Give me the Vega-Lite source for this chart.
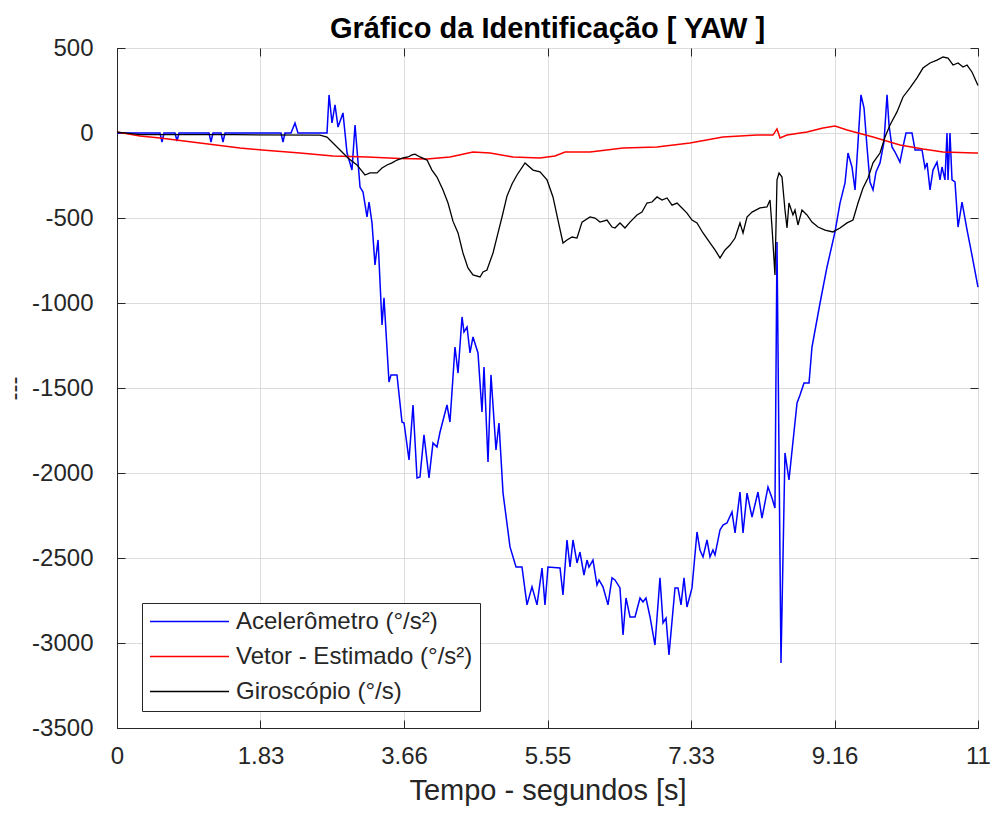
{
  "$schema": "https://vega.github.io/schema/vega-lite/v6.json",
  "width": 861,
  "height": 680,
  "autosize": {"type": "none"},
  "padding": {"left": 117, "top": 48, "right": 18, "bottom": 89},
  "background": "white",
  "config": {
    "font": "Liberation Sans",
    "view": {"stroke": "#262626", "strokeWidth": 1},
    "axis": {
      "domainColor": "#262626",
      "tickColor": "#262626",
      "labelColor": "#262626",
      "titleColor": "#262626",
      "gridColor": "#dcdcdc",
      "labelFont": "Liberation Sans",
      "titleFont": "Liberation Sans",
      "labelFontSize": 24,
      "titleFontSize": 29,
      "titleFontWeight": "normal",
      "tickSize": -8,
      "labelFlush": false,
      "labelOverlap": false
    }
  },
  "title": {
    "text": "Gráfico da Identificação [ YAW ]",
    "font": "Liberation Sans",
    "fontSize": 29,
    "fontWeight": "bold",
    "color": "#000000",
    "anchor": "middle",
    "frame": "group",
    "offset": -8
  },
  "datasets": {
    "acc": [
      {"t": 0.000, "v": 0}, {"t": 0.549, "v": 0}, {"t": 0.575, "v": -53}, {"t": 0.600, "v": 0},
      {"t": 0.741, "v": 0}, {"t": 0.767, "v": -47}, {"t": 0.792, "v": 0}, {"t": 1.175, "v": 0},
      {"t": 1.201, "v": -53}, {"t": 1.226, "v": 0}, {"t": 1.329, "v": 0}, {"t": 1.354, "v": -53},
      {"t": 1.380, "v": 0}, {"t": 2.095, "v": 0}, {"t": 2.121, "v": -53}, {"t": 2.146, "v": 0},
      {"t": 2.223, "v": 0}, {"t": 2.274, "v": 59}, {"t": 2.312, "v": 0}, {"t": 2.683, "v": 0},
      {"t": 2.709, "v": 224}, {"t": 2.747, "v": 59}, {"t": 2.785, "v": 165}, {"t": 2.824, "v": 35},
      {"t": 2.887, "v": 118}, {"t": 2.939, "v": -118}, {"t": 3.002, "v": -218}, {"t": 3.041, "v": 47},
      {"t": 3.105, "v": -318}, {"t": 3.143, "v": -347}, {"t": 3.194, "v": -494}, {"t": 3.220, "v": -406},
      {"t": 3.258, "v": -529}, {"t": 3.296, "v": -776}, {"t": 3.335, "v": -629}, {"t": 3.386, "v": -1129},
      {"t": 3.411, "v": -970}, {"t": 3.475, "v": -1465}, {"t": 3.501, "v": -1423}, {"t": 3.577, "v": -1423},
      {"t": 3.641, "v": -1700}, {"t": 3.667, "v": -1706}, {"t": 3.731, "v": -1923}, {"t": 3.782, "v": -1600},
      {"t": 3.833, "v": -2029}, {"t": 3.871, "v": -2023}, {"t": 3.922, "v": -1776}, {"t": 3.986, "v": -2029},
      {"t": 4.037, "v": -1823}, {"t": 4.088, "v": -1847}, {"t": 4.127, "v": -1759}, {"t": 4.216, "v": -1600},
      {"t": 4.254, "v": -1700}, {"t": 4.318, "v": -1259}, {"t": 4.357, "v": -1412}, {"t": 4.408, "v": -1082},
      {"t": 4.433, "v": -1171}, {"t": 4.472, "v": -1141}, {"t": 4.510, "v": -1294}, {"t": 4.548, "v": -1200},
      {"t": 4.612, "v": -1294}, {"t": 4.663, "v": -1641}, {"t": 4.689, "v": -1376}, {"t": 4.740, "v": -1935},
      {"t": 4.778, "v": -1423}, {"t": 4.842, "v": -1864}, {"t": 4.880, "v": -1706}, {"t": 4.932, "v": -2118},
      {"t": 5.021, "v": -2435}, {"t": 5.098, "v": -2553}, {"t": 5.174, "v": -2553}, {"t": 5.238, "v": -2776},
      {"t": 5.302, "v": -2670}, {"t": 5.366, "v": -2776}, {"t": 5.430, "v": -2559}, {"t": 5.468, "v": -2776},
      {"t": 5.506, "v": -2553}, {"t": 5.660, "v": -2559}, {"t": 5.698, "v": -2717}, {"t": 5.749, "v": -2394},
      {"t": 5.788, "v": -2553}, {"t": 5.826, "v": -2394}, {"t": 5.877, "v": -2529}, {"t": 5.915, "v": -2465},
      {"t": 5.966, "v": -2600}, {"t": 6.005, "v": -2512}, {"t": 6.030, "v": -2553}, {"t": 6.081, "v": -2512},
      {"t": 6.132, "v": -2659}, {"t": 6.158, "v": -2629}, {"t": 6.209, "v": -2670}, {"t": 6.273, "v": -2776},
      {"t": 6.324, "v": -2617}, {"t": 6.362, "v": -2629}, {"t": 6.426, "v": -2676}, {"t": 6.465, "v": -2953},
      {"t": 6.503, "v": -2735}, {"t": 6.554, "v": -2847}, {"t": 6.618, "v": -2847}, {"t": 6.682, "v": -2735},
      {"t": 6.720, "v": -2759}, {"t": 6.758, "v": -2735}, {"t": 6.810, "v": -2847}, {"t": 6.873, "v": -3012},
      {"t": 6.937, "v": -2617}, {"t": 6.976, "v": -2882}, {"t": 7.014, "v": -2853}, {"t": 7.052, "v": -3070},
      {"t": 7.129, "v": -2676}, {"t": 7.167, "v": -2676}, {"t": 7.206, "v": -2776}, {"t": 7.244, "v": -2617},
      {"t": 7.282, "v": -2788}, {"t": 7.346, "v": -2676}, {"t": 7.410, "v": -2347}, {"t": 7.448, "v": -2453},
      {"t": 7.487, "v": -2494}, {"t": 7.538, "v": -2394}, {"t": 7.576, "v": -2494}, {"t": 7.614, "v": -2453},
      {"t": 7.640, "v": -2482}, {"t": 7.704, "v": -2335}, {"t": 7.742, "v": -2306}, {"t": 7.793, "v": -2294},
      {"t": 7.857, "v": -2229}, {"t": 7.896, "v": -2353}, {"t": 7.959, "v": -2112}, {"t": 7.998, "v": -2353},
      {"t": 8.049, "v": -2118}, {"t": 8.113, "v": -2259}, {"t": 8.189, "v": -2112}, {"t": 8.240, "v": -2265},
      {"t": 8.317, "v": -2082}, {"t": 8.368, "v": -2147}, {"t": 8.406, "v": -2206}, {"t": 8.432, "v": -641},
      {"t": 8.483, "v": -3117}, {"t": 8.534, "v": -1882}, {"t": 8.585, "v": -2041}, {"t": 8.688, "v": -1588},
      {"t": 8.726, "v": -1541}, {"t": 8.777, "v": -1471}, {"t": 8.841, "v": -1471}, {"t": 8.879, "v": -1259},
      {"t": 8.982, "v": -1000}, {"t": 9.071, "v": -788}, {"t": 9.173, "v": -582}, {"t": 9.237, "v": -412},
      {"t": 9.301, "v": -294}, {"t": 9.339, "v": -118}, {"t": 9.390, "v": -200}, {"t": 9.429, "v": -335},
      {"t": 9.505, "v": 224}, {"t": 9.544, "v": 147}, {"t": 9.582, "v": -82}, {"t": 9.620, "v": -288},
      {"t": 9.659, "v": -335}, {"t": 9.697, "v": -229}, {"t": 9.748, "v": -176}, {"t": 9.799, "v": -53},
      {"t": 9.838, "v": 224}, {"t": 9.863, "v": 47}, {"t": 9.901, "v": -82}, {"t": 9.940, "v": -112},
      {"t": 10.003, "v": -171}, {"t": 10.042, "v": -82}, {"t": 10.080, "v": 0}, {"t": 10.157, "v": 0},
      {"t": 10.196, "v": -100}, {"t": 10.285, "v": -100}, {"t": 10.323, "v": -206}, {"t": 10.349, "v": -176},
      {"t": 10.387, "v": -335}, {"t": 10.425, "v": -218}, {"t": 10.476, "v": -171}, {"t": 10.515, "v": -276},
      {"t": 10.540, "v": -200}, {"t": 10.578, "v": -276}, {"t": 10.604, "v": 0}, {"t": 10.617, "v": -276},
      {"t": 10.642, "v": 0}, {"t": 10.668, "v": -276}, {"t": 10.706, "v": -288}, {"t": 10.745, "v": -553},
      {"t": 10.796, "v": -406}, {"t": 10.860, "v": -570}, {"t": 10.923, "v": -718}, {"t": 11.000, "v": -906}
    ],
    "est": [
      {"t": 0.000, "v": 6}, {"t": 0.294, "v": -18}, {"t": 0.549, "v": -30}, {"t": 1.060, "v": -59},
      {"t": 1.571, "v": -88}, {"t": 1.853, "v": -100}, {"t": 2.338, "v": -118}, {"t": 2.760, "v": -135},
      {"t": 3.194, "v": -141}, {"t": 3.616, "v": -150}, {"t": 3.961, "v": -153}, {"t": 4.254, "v": -141},
      {"t": 4.548, "v": -112}, {"t": 4.766, "v": -118}, {"t": 5.059, "v": -141}, {"t": 5.404, "v": -147},
      {"t": 5.596, "v": -135}, {"t": 5.724, "v": -112}, {"t": 6.043, "v": -112}, {"t": 6.465, "v": -88},
      {"t": 6.899, "v": -82}, {"t": 7.321, "v": -59}, {"t": 7.742, "v": -24}, {"t": 8.177, "v": -12},
      {"t": 8.381, "v": -12}, {"t": 8.432, "v": 24}, {"t": 8.471, "v": -29}, {"t": 8.560, "v": -12},
      {"t": 8.815, "v": 6}, {"t": 9.020, "v": 29}, {"t": 9.173, "v": 41}, {"t": 9.327, "v": 18},
      {"t": 9.659, "v": -24}, {"t": 10.003, "v": -70}, {"t": 10.297, "v": -94}, {"t": 10.553, "v": -112},
      {"t": 10.962, "v": -118}, {"t": 11.000, "v": -118}
    ],
    "gyro": [
      {"t": 0.000, "v": 5}, {"t": 0.300, "v": -10}, {"t": 1.500, "v": -10}, {"t": 2.594, "v": -12},
      {"t": 2.683, "v": -24}, {"t": 2.721, "v": -41}, {"t": 2.849, "v": -100}, {"t": 2.951, "v": -147},
      {"t": 3.066, "v": -188}, {"t": 3.168, "v": -247}, {"t": 3.232, "v": -235}, {"t": 3.322, "v": -235},
      {"t": 3.386, "v": -206}, {"t": 3.450, "v": -188}, {"t": 3.513, "v": -176}, {"t": 3.577, "v": -159},
      {"t": 3.654, "v": -147}, {"t": 3.718, "v": -141}, {"t": 3.769, "v": -129}, {"t": 3.807, "v": -124},
      {"t": 3.871, "v": -141}, {"t": 3.961, "v": -159}, {"t": 4.024, "v": -218}, {"t": 4.088, "v": -259},
      {"t": 4.165, "v": -335}, {"t": 4.229, "v": -412}, {"t": 4.293, "v": -520}, {"t": 4.357, "v": -588},
      {"t": 4.420, "v": -706}, {"t": 4.484, "v": -794}, {"t": 4.548, "v": -835}, {"t": 4.638, "v": -847},
      {"t": 4.676, "v": -817}, {"t": 4.727, "v": -806}, {"t": 4.740, "v": -788}, {"t": 4.804, "v": -706},
      {"t": 4.868, "v": -588}, {"t": 4.919, "v": -494}, {"t": 4.983, "v": -370}, {"t": 5.047, "v": -300},
      {"t": 5.110, "v": -247}, {"t": 5.213, "v": -176}, {"t": 5.315, "v": -218}, {"t": 5.404, "v": -229},
      {"t": 5.494, "v": -276}, {"t": 5.570, "v": -376}, {"t": 5.634, "v": -512}, {"t": 5.698, "v": -647},
      {"t": 5.749, "v": -629}, {"t": 5.813, "v": -612}, {"t": 5.877, "v": -618}, {"t": 5.941, "v": -524},
      {"t": 6.043, "v": -494}, {"t": 6.107, "v": -500}, {"t": 6.171, "v": -524}, {"t": 6.260, "v": -512},
      {"t": 6.324, "v": -553}, {"t": 6.362, "v": -559}, {"t": 6.426, "v": -529}, {"t": 6.490, "v": -559},
      {"t": 6.554, "v": -524}, {"t": 6.643, "v": -482}, {"t": 6.707, "v": -465}, {"t": 6.771, "v": -412},
      {"t": 6.835, "v": -406}, {"t": 6.899, "v": -376}, {"t": 6.963, "v": -394}, {"t": 7.027, "v": -382},
      {"t": 7.091, "v": -424}, {"t": 7.155, "v": -412}, {"t": 7.218, "v": -441}, {"t": 7.282, "v": -471},
      {"t": 7.346, "v": -512}, {"t": 7.410, "v": -529}, {"t": 7.487, "v": -588}, {"t": 7.576, "v": -647},
      {"t": 7.640, "v": -688}, {"t": 7.704, "v": -735}, {"t": 7.768, "v": -688}, {"t": 7.832, "v": -659},
      {"t": 7.896, "v": -618}, {"t": 7.959, "v": -529}, {"t": 7.998, "v": -588}, {"t": 8.049, "v": -494},
      {"t": 8.113, "v": -465}, {"t": 8.215, "v": -441}, {"t": 8.304, "v": -435}, {"t": 8.343, "v": -394},
      {"t": 8.368, "v": -553}, {"t": 8.406, "v": -835}, {"t": 8.432, "v": -276}, {"t": 8.458, "v": -235},
      {"t": 8.496, "v": -259}, {"t": 8.534, "v": -453}, {"t": 8.560, "v": -559}, {"t": 8.585, "v": -412},
      {"t": 8.636, "v": -482}, {"t": 8.662, "v": -453}, {"t": 8.700, "v": -541}, {"t": 8.751, "v": -453},
      {"t": 8.815, "v": -482}, {"t": 8.879, "v": -524}, {"t": 8.956, "v": -553}, {"t": 9.045, "v": -571},
      {"t": 9.147, "v": -582}, {"t": 9.237, "v": -559}, {"t": 9.327, "v": -529}, {"t": 9.403, "v": -512},
      {"t": 9.467, "v": -412}, {"t": 9.531, "v": -324}, {"t": 9.595, "v": -265}, {"t": 9.659, "v": -176},
      {"t": 9.748, "v": -118}, {"t": 9.812, "v": -24}, {"t": 9.876, "v": 47}, {"t": 9.965, "v": 124},
      {"t": 10.042, "v": 212}, {"t": 10.131, "v": 265}, {"t": 10.221, "v": 324}, {"t": 10.297, "v": 382},
      {"t": 10.387, "v": 412}, {"t": 10.476, "v": 429}, {"t": 10.553, "v": 447}, {"t": 10.617, "v": 441},
      {"t": 10.681, "v": 400}, {"t": 10.745, "v": 412}, {"t": 10.809, "v": 388}, {"t": 10.860, "v": 400},
      {"t": 10.923, "v": 359}, {"t": 11.000, "v": 280}
    ]
  },
  "layer": [
    {
      "data": {"name": "acc"},
      "mark": {"type": "line", "strokeWidth": 1.5},
      "encoding": {
        "x": {
          "field": "t", "type": "quantitative",
          "scale": {"domain": [0, 11], "nice": false, "zero": false},
          "axis": {
            "values": [0, 1.8333, 3.6667, 5.5, 7.3333, 9.1667, 11],
            "labelExpr": "datum.value < 0.5 ? '0' : datum.value < 2.5 ? '1.83' : datum.value < 4.5 ? '3.66' : datum.value < 6.5 ? '5.55' : datum.value < 8 ? '7.33' : datum.value < 10 ? '9.16' : '11'",
            "grid": true,
            "title": "Tempo - segundos [s]",
            "labelPadding": 24,
            "titleY": 71,
            "titleBaseline": "alphabetic"
          }
        },
        "y": {
          "field": "v", "type": "quantitative",
          "scale": {"domain": [-3500, 500], "nice": false, "zero": false},
          "axis": {
            "values": [-3500, -3000, -2500, -2000, -1500, -1000, -500, 0, 500],
            "labelExpr": "'' + datum.value",
            "grid": true,
            "title": "---",
            "titleFontSize": 24,
            "labelPadding": 32,
            "titleX": -103,
            "titleY": 340,
            "titleAngle": 270,
            "titleAlign": "center",
            "titleBaseline": "middle"
          }
        },
        "color": {
          "datum": "Acelerômetro (°/s²)",
          "type": "nominal",
          "scale": {
            "domain": ["Acelerômetro (°/s²)", "Vetor - Estimado (°/s²)", "Giroscópio (°/s)"],
            "range": ["#0000ff", "#ff0000", "#000000"]
          },
          "legend": {
            "title": null,
            "orient": "none",
            "legendX": 25,
            "legendY": 555,
            "symbolType": "stroke",
            "symbolSize": 6241,
            "symbolStrokeWidth": 1.5,
            "clipHeight": 23,
            "rowPadding": 10,
            "padding": 7,
            "labelOffset": 6,
            "labelFontSize": 24,
            "labelFont": "Liberation Sans",
            "labelColor": "#262626",
            "labelLimit": 400,
            "strokeColor": "#262626",
            "fillColor": "white",
            "cornerRadius": 0
          }
        }
      }
    },
    {
      "data": {"name": "est"},
      "mark": {"type": "line", "strokeWidth": 1.5},
      "encoding": {
        "x": {"field": "t", "type": "quantitative", "axis": null},
        "y": {"field": "v", "type": "quantitative", "axis": null},
        "color": {"datum": "Vetor - Estimado (°/s²)", "type": "nominal"}
      }
    },
    {
      "data": {"name": "gyro"},
      "mark": {"type": "line", "strokeWidth": 1.3},
      "encoding": {
        "x": {"field": "t", "type": "quantitative", "axis": null},
        "y": {"field": "v", "type": "quantitative", "axis": null},
        "color": {"datum": "Giroscópio (°/s)", "type": "nominal"}
      }
    },
    {
      "data": {"name": "gyro"},
      "mark": {"type": "line", "strokeOpacity": 0},
      "encoding": {
        "x": {
          "field": "t", "type": "quantitative",
          "axis": {"orient": "top", "values": [0, 1.8333, 3.6667, 5.5, 7.3333, 9.1667, 11], "labels": false, "grid": false, "title": null, "domain": false}
        },
        "y": {
          "field": "v", "type": "quantitative",
          "axis": {"orient": "right", "values": [-3500, -3000, -2500, -2000, -1500, -1000, -500, 0, 500], "labels": false, "grid": false, "title": null, "domain": false}
        }
      }
    }
  ],
  "resolve": {"axis": {"x": "independent", "y": "independent"}}
}
